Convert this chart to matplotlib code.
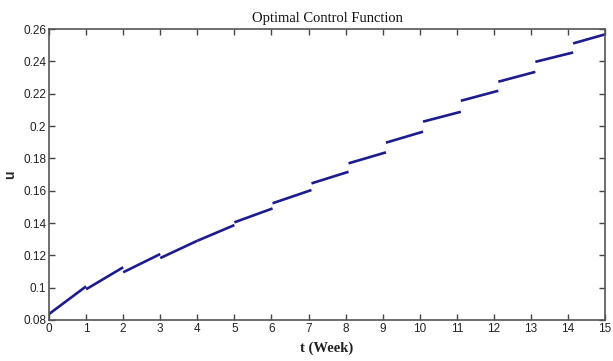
import matplotlib
matplotlib.use("Agg")
import matplotlib.pyplot as plt
import numpy as np

# one segment per week: switching times and value at start and end of each piece
t_switch = [0.0, 1.0, 2.0, 3.0, 4.0, 5.0, 6.03, 7.08, 8.08, 9.09, 10.09,
            11.11, 12.12, 13.12, 14.14, 15.0]
u_start = [0.0837, 0.0990, 0.1095, 0.1183, 0.1290, 0.1404, 0.1522, 0.1645,
           0.1769, 0.1897, 0.2027, 0.2156, 0.2274, 0.2397, 0.2511]
u_end = [0.1008, 0.1126, 0.1208, 0.1290, 0.1387, 0.1490, 0.1604, 0.1717,
         0.1837, 0.1965, 0.2088, 0.2218, 0.2335, 0.2455, 0.2567]

fig = plt.figure(figsize=(6.13, 3.61), dpi=100)
ax = fig.add_axes([0.080, 0.1136, 0.907, 0.806])

for k in range(len(u_start)):
    ax.plot([t_switch[k], t_switch[k + 1]], [u_start[k], u_end[k]],
            color="#1c1c8c", linewidth=1.9, solid_capstyle="butt")

ax.set_xlim(0, 15)
ax.set_ylim(0.08, 0.26)
ax.set_xticks(range(16))
ax.set_yticks(np.arange(0.08, 0.2601, 0.02))
ax.set_yticklabels(["0.08", "0.1", "0.12", "0.14", "0.16", "0.18", "0.2", "0.22", "0.24", "0.26"])
ax.tick_params(direction="in", top=True, right=True, length=4, width=1,
               colors="#444444", labelcolor="#222222", labelsize=8.5, pad=2)
for lab in ax.get_xticklabels() + ax.get_yticklabels():
    lab.set_family("Liberation Sans")
for s in ax.spines.values():
    s.set_color("#555555")
    s.set_linewidth(1.2)

ax.set_title("Optimal Control Function", family="Liberation Serif", fontsize=10.5,
             color="#111111", pad=5)
ax.set_xlabel("t (Week)", family="Liberation Serif", fontsize=10.5,
              fontweight="bold", color="#222222", labelpad=5)
ax.set_ylabel("u", family="Liberation Sans", fontsize=10, fontweight="bold",
              color="#222222", labelpad=4)

fig.savefig("out.png", dpi=100)
